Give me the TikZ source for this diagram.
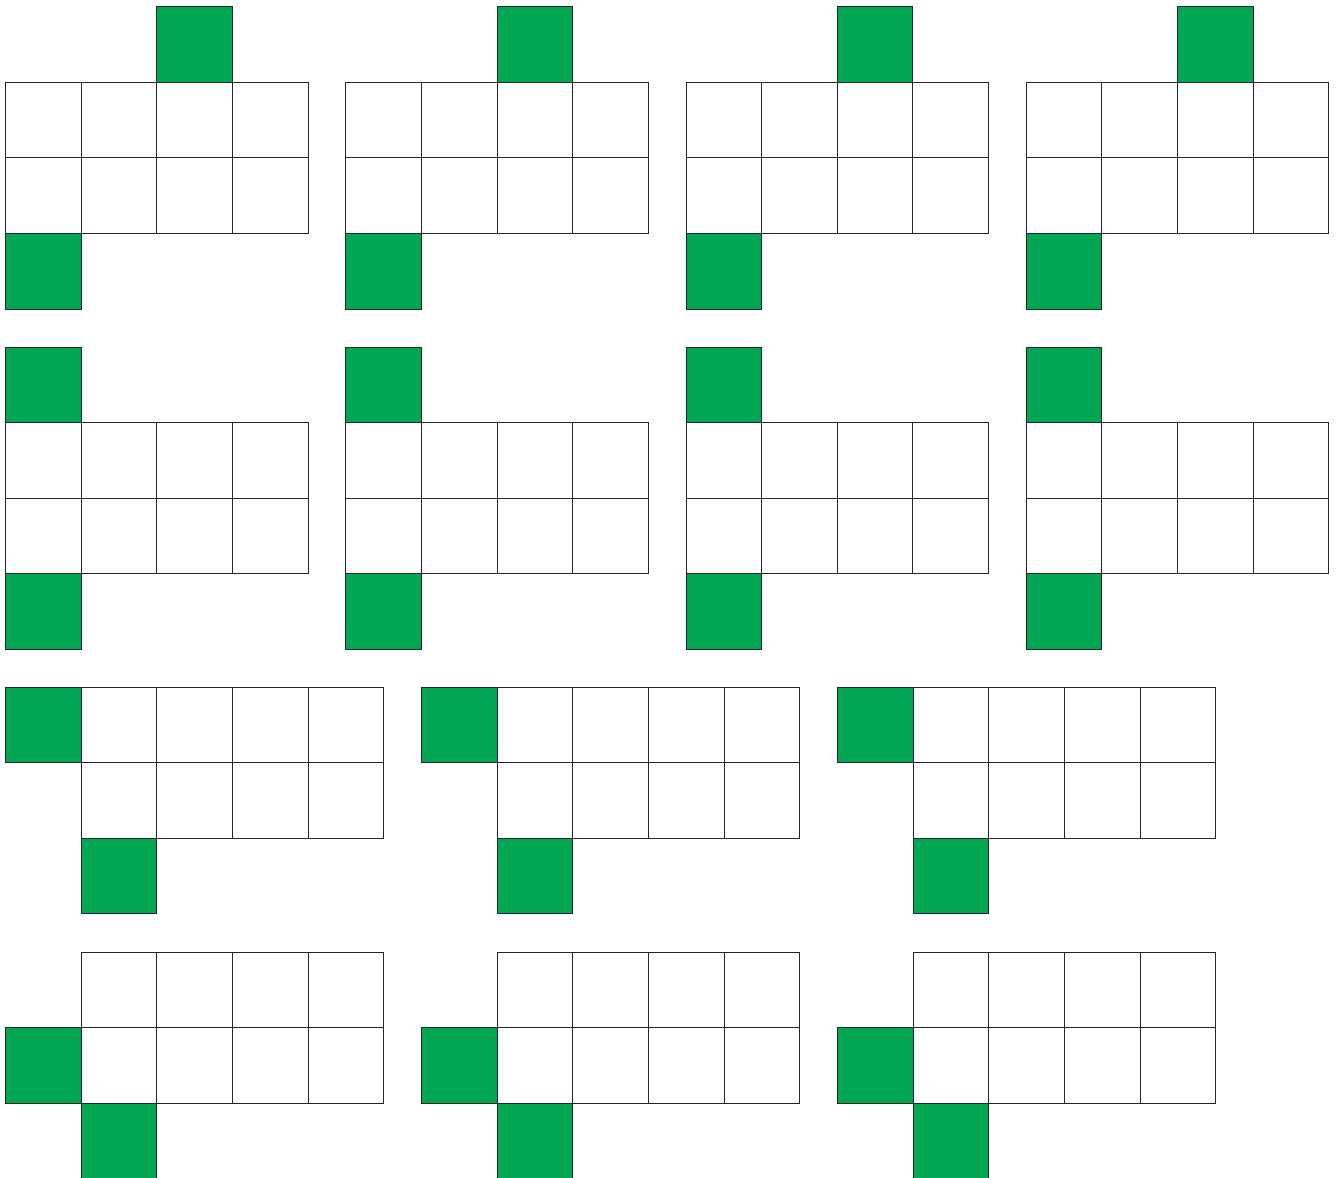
\documentclass[tikz,border=0pt]{standalone}
\definecolor{cgreen}{HTML}{00A651}
\newcommand\wsq[2]{\draw[wcell] (#1,#2) rectangle ++(75.6,75.6);}
\newcommand\gsq[2]{\draw[gcell] (#1,#2) rectangle ++(75.6,75.6);}
\tikzset{
  wcell/.style={draw=black!85, line width=1pt, fill=white},
  gcell/.style={draw=black!85, line width=1pt, fill=cgreen},
}
\begin{document}
\begin{tikzpicture}[x=1pt,y=-1pt]
\useasboundingbox[fill=white] (0,0) rectangle (1339,1178);
\def\c{75.6}
% Row 1 (type A)
\foreach \k in {0,1,2,3}{
  \pgfmathsetmacro\ox{5.7+340.2*\k}
  \pgfmathsetmacro\oy{6.7}
  \foreach \i in {0,1,2,3}{\foreach \j in {1,2}{
    \wsq{\ox+\i*\c}{\oy+\j*\c}}}
  \gsq{\ox+2*\c}{\oy}
  \gsq{\ox}{\oy+3*\c}
}
% Row 2 (type B)
\foreach \k in {0,1,2,3}{
  \pgfmathsetmacro\ox{5.7+340.2*\k}
  \pgfmathsetmacro\oy{347.0}
  \foreach \i in {0,1,2,3}{\foreach \j in {1,2}{
    \wsq{\ox+\i*\c}{\oy+\j*\c}}}
  \gsq{\ox}{\oy}
  \gsq{\ox}{\oy+3*\c}
}
% Row 3 (type C)
\foreach \k in {0,1,2}{
  \pgfmathsetmacro\ox{5.7+416*\k}
  \pgfmathsetmacro\oy{687.0}
  \foreach \i in {1,2,3,4}{\foreach \j in {0,1}{
    \wsq{\ox+\i*\c}{\oy+\j*\c}}}
  \gsq{\ox}{\oy}
  \gsq{\ox+\c}{\oy+2*\c}
}
% Row 4 (type D)
\foreach \k in {0,1,2}{
  \pgfmathsetmacro\ox{5.7+416*\k}
  \pgfmathsetmacro\oy{952.0}
  \foreach \i in {1,2,3,4}{\foreach \j in {0,1}{
    \wsq{\ox+\i*\c}{\oy+\j*\c}}}
  \gsq{\ox}{\oy+\c}
  \gsq{\ox+\c}{\oy+2*\c}
}
\end{tikzpicture}
\end{document}
